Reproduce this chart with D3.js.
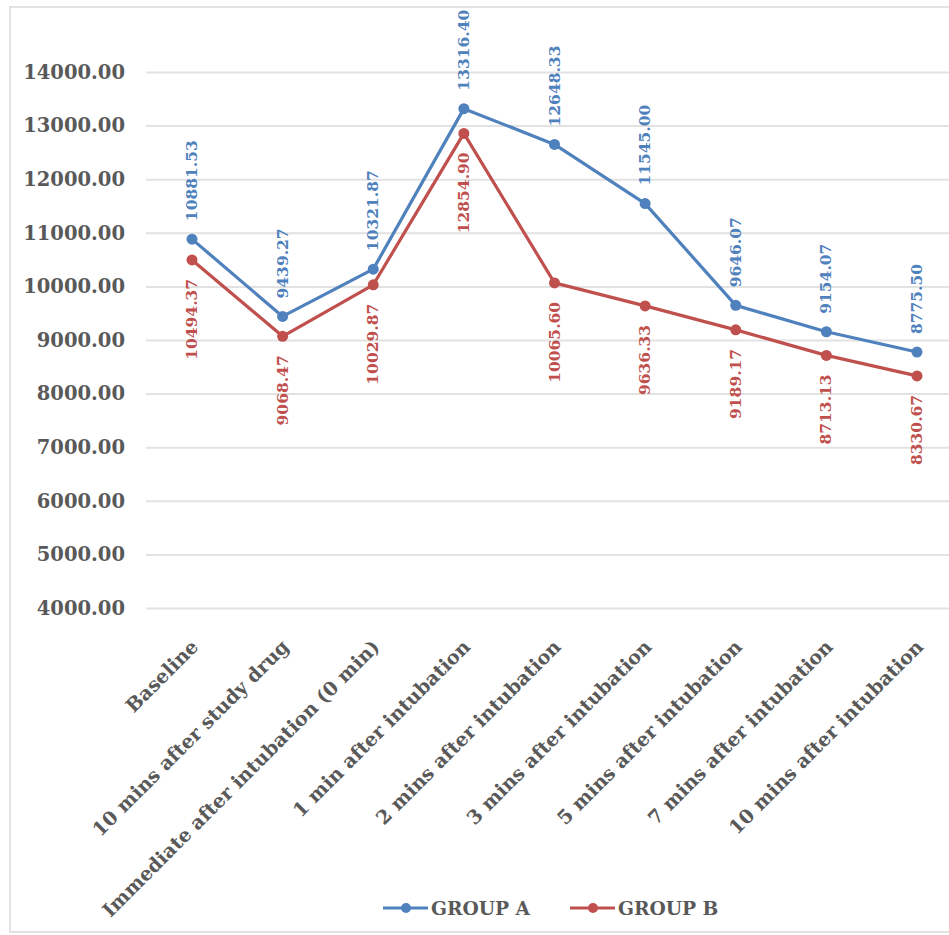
<!DOCTYPE html>
<html>
<head>
<meta charset="utf-8">
<script src="https://cdn.jsdelivr.net/npm/d3@7"></script>
<style>
  html, body { margin: 0; padding: 0; background: #fff; }
  svg { display: block; }
  text { font-family: "DejaVu Serif", "Liberation Serif", serif; }
</style>
</head>
<body>
<svg id="chart" width="949" height="935"></svg>
<script>
// Time points of the measurement
const categories = [
  "Baseline",
  "10 mins after study drug",
  "Immediate after intubation (0 min)",
  "1 min after intubation",
  "2 mins after intubation",
  "3 mins after intubation",
  "5 mins after intubation",
  "7 mins after intubation",
  "10 mins after intubation"
];

// Mean values per group
const groupA = [10881.53, 9439.27, 10321.87, 13316.40, 12648.33, 11545.00, 9646.07, 9154.07, 8775.50];
const groupB = [10494.37, 9068.47, 10029.87, 12854.90, 10065.60, 9636.33, 9189.17, 8713.13, 8330.67];

const seriesNames = ["GROUP A", "GROUP B"];
const seriesColors = ["#4F81BD", "#C0504D"];

const yTicks = [4000, 5000, 6000, 7000, 8000, 9000, 10000, 11000, 12000, 13000, 14000];

const svg = d3.select("#chart");

// chart frame
svg.append("rect")
  .attr("x", 10).attr("y", 7)
  .attr("width", 1000).attr("height", 925)
  .attr("fill", "#fff")
  .attr("stroke", "#d9d9d9")
  .attr("stroke-width", 1.5);

const plot = { left: 146, right: 962, top: 72, bottom: 608 };

const x = d3.scalePoint()
  .domain(categories)
  .range([192, 917]);

const y = d3.scaleLinear()
  .domain([4000, 14000])
  .range([plot.bottom, plot.top]);

// y axis with gridlines
const yAxis = d3.axisLeft(y)
  .tickValues(yTicks)
  .tickFormat(d3.format(".2f"))
  .tickSize(-(plot.right - plot.left))
  .tickPadding(21);

const gy = svg.append("g")
  .attr("transform", `translate(${plot.left},0)`)
  .call(yAxis);
gy.select(".domain").remove();
gy.selectAll(".tick line")
  .attr("stroke", "#e2e2e2")
  .attr("stroke-width", 2);
gy.selectAll(".tick text")
  .attr("fill", "#595959")
  .style("font-size", "19.5px")
  .style("font-weight", "bold")
  .style("font-family", "'DejaVu Serif', serif");

// x axis with rotated category labels
const xAxis = d3.axisBottom(x).tickSize(0).tickPadding(0);
const gx = svg.append("g")
  .attr("transform", `translate(0,${plot.bottom})`)
  .call(xAxis);
gx.select(".domain").remove();
gx.selectAll(".tick text")
  .attr("y", 0)
  .attr("dy", 0)
  .attr("text-anchor", "end")
  .attr("transform", "translate(7,40) rotate(-45)")
  .attr("fill", "#595959")
  .style("font-size", "19.3px")
  .style("font-weight", "bold")
  .style("font-family", "'DejaVu Serif', serif");

const line = d3.line()
  .x((d, i) => x(categories[i]))
  .y(d => y(d));

const fmt = d3.format(".2f");
const series = [groupA, groupB];

series.forEach((vals, s) => {
  const g = svg.append("g");
  g.append("path")
    .datum(vals)
    .attr("fill", "none")
    .attr("stroke", seriesColors[s])
    .attr("stroke-width", 3.2)
    .attr("stroke-linejoin", "round")
    .attr("d", line);
  g.selectAll("circle")
    .data(vals)
    .join("circle")
    .attr("cx", (d, i) => x(categories[i]))
    .attr("cy", d => y(d))
    .attr("r", 5.5)
    .attr("fill", seriesColors[s]);
  // value labels, vertical: above the point for A, below for B
  g.selectAll("text")
    .data(vals)
    .join("text")
    .attr("transform", (d, i) => {
      const px = x(categories[i]) + 5;
      const py = s === 0 ? y(d) - 18 : y(d) + 19;
      return `translate(${px},${py}) rotate(-90)`;
    })
    .attr("text-anchor", s === 0 ? "start" : "end")
    .attr("fill", seriesColors[s])
    .style("font-size", "15.5px")
    .style("font-weight", "bold")
    .text(d => fmt(d));
});

// legend
const legend = [
  { name: seriesNames[0], color: seriesColors[0], x0: 383 },
  { name: seriesNames[1], color: seriesColors[1], x0: 570 }
];
const lg = svg.append("g");
legend.forEach(l => {
  lg.append("line")
    .attr("x1", l.x0).attr("x2", l.x0 + 45)
    .attr("y1", 908).attr("y2", 908)
    .attr("stroke", l.color).attr("stroke-width", 3.2);
  lg.append("circle")
    .attr("cx", l.x0 + 23).attr("cy", 908).attr("r", 5)
    .attr("fill", l.color);
  lg.append("text")
    .attr("x", l.x0 + 48).attr("y", 915)
    .attr("fill", "#595959")
    .style("font-size", "18.7px")
    .style("font-weight", "bold")
    .text(l.name);
});
</script>
</body>
</html>
